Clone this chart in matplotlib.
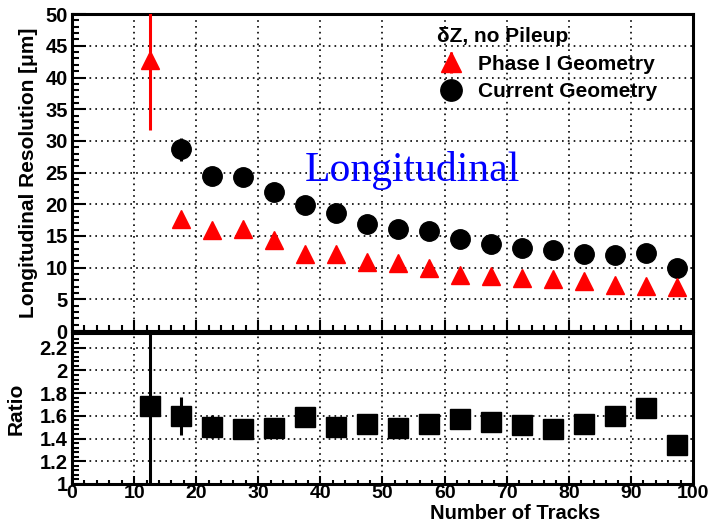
import numpy as np
import matplotlib.pyplot as plt
from matplotlib.ticker import MultipleLocator, FuncFormatter

plt.rcParams['font.family'] = ['Liberation Sans', 'DejaVu Sans']
plt.rcParams['font.weight'] = 'bold'

# bins (centres) in number of tracks
n_tracks = [12.5, 17.5, 22.5, 27.5, 32.5, 37.5, 42.5, 47.5, 52.5,
            57.5, 62.5, 67.5, 72.5, 77.5, 82.5, 87.5, 92.5, 97.5]

# Phase I geometry resolution (um)
phase1 = [42.7, 17.7, 16.0, 16.15, 14.4, 12.2, 12.2, 10.9, 10.66,
          9.98, 8.83, 8.68, 8.42, 8.16, 7.9, 7.27, 7.1, 7.0]
phase1_err = [11.0, 0.4, 0.3, 0.3, 0.3, 0.3, 0.3, 0.2, 0.2,
              0.2, 0.2, 0.2, 0.2, 0.2, 0.2, 0.2, 0.2, 0.2]

# current geometry resolution (um), first bin is off scale
current = [np.nan, 28.7, 24.4, 24.25, 21.9, 19.9, 18.66, 16.93, 16.15,
           15.78, 14.58, 13.8, 13.17, 12.75, 12.23, 11.97, 12.39, 9.98]
current_err = [0.0, 1.8, 0.4, 0.4, 0.4, 0.3, 0.3, 0.3, 0.3,
               0.3, 0.3, 0.3, 0.3, 0.3, 0.3, 0.3, 0.3, 0.3]

# ratio current / phase I
ratio = [1.688, 1.597, 1.506, 1.482, 1.491, 1.588, 1.503, 1.524, 1.494,
         1.524, 1.57, 1.547, 1.518, 1.482, 1.524, 1.60, 1.67, 1.347]
ratio_err = [1.5, 0.165, 0.1, 0.05, 0.05, 0.05, 0.05, 0.05, 0.05,
             0.05, 0.05, 0.05, 0.05, 0.05, 0.05, 0.06, 0.08, 0.08]

grid_style = dict(color='black', linestyle=(0, (1, 2.5)), linewidth=1.2)

fig = plt.figure(figsize=(7.1, 5.23), dpi=100)
ax = fig.add_axes([0.1014, 0.367, 0.8746, 0.606])
axr = fig.add_axes([0.1014, 0.0746, 0.8746, 0.2887])

# ---- top panel
ax.errorbar(n_tracks, current, yerr=current_err, fmt='o', color='black',
            markersize=14, elinewidth=2.2, capsize=0, label='Current Geometry', zorder=3)
ax.errorbar(n_tracks, phase1, yerr=phase1_err, fmt='^', color='red',
            markersize=13, elinewidth=2.2, capsize=0, label='Phase I Geometry', zorder=3)

ax.set_xlim(0, 100)
ax.set_ylim(0, 50)
ax.xaxis.set_major_locator(MultipleLocator(10))
ax.xaxis.set_minor_locator(MultipleLocator(2))
ax.yaxis.set_major_locator(MultipleLocator(5))
ax.yaxis.set_minor_locator(MultipleLocator(1))
ax.tick_params(axis='both', which='both', direction='in', width=1.5)
ax.tick_params(axis='y', which='major', length=10, labelsize=14.5, pad=3)
ax.tick_params(axis='y', which='minor', length=5)
ax.tick_params(axis='x', which='major', length=8, labelbottom=False)
ax.tick_params(axis='x', which='minor', length=4)
ax.grid(True, which='major', **grid_style)
ax.set_ylabel('Longitudinal Resolution [μm]', fontsize=15, fontweight='bold', labelpad=5)
for s in ax.spines.values():
    s.set_linewidth(2.2)

ax.text(54.8, 23.7, 'Longitudinal', color='blue', fontsize=30, fontweight='normal',
        family='Liberation Serif', ha='center', va='baseline')

h, l = ax.get_legend_handles_labels()
leg = ax.legend([h[1], h[0]], [l[1], l[0]], title='δZ, no Pileup', loc='upper left',
                bbox_to_anchor=(0.588, 0.96), frameon=False, fontsize=15,
                title_fontsize=15, alignment='left', borderpad=0, borderaxespad=0,
                handlelength=1.35, handletextpad=0.6, labelspacing=0.42,
                markerscale=1.1)
leg.get_title().set_fontweight('bold')

# ---- ratio panel
axr.errorbar(n_tracks, ratio, yerr=ratio_err, fmt='s', color='black',
             markersize=14.5, elinewidth=2.2, capsize=0, zorder=3)
axr.set_xlim(0, 100)
axr.set_ylim(1.0, 2.33)
axr.xaxis.set_major_locator(MultipleLocator(10))
axr.xaxis.set_minor_locator(MultipleLocator(2))
axr.yaxis.set_major_locator(MultipleLocator(0.2))
axr.yaxis.set_minor_locator(MultipleLocator(0.04))
axr.yaxis.set_major_formatter(FuncFormatter(lambda v, p: '%g' % round(v, 2)))
axr.tick_params(axis='both', which='both', direction='in', width=1.5)
axr.tick_params(axis='y', which='major', length=10, labelsize=14.5, pad=3)
axr.tick_params(axis='y', which='minor', length=5)
axr.tick_params(axis='x', which='major', length=6, labelsize=14, pad=1)
axr.tick_params(axis='x', which='minor', length=3)
axr.grid(True, which='major', **grid_style)
axr.set_ylabel('Ratio', fontsize=15, fontweight='bold', labelpad=10)
axr.set_xlabel('Number of Tracks', fontsize=14.5, fontweight='bold')
axr.xaxis.set_label_coords(0.85, -0.232)
axr.xaxis.label.set_horizontalalignment('right')
axr.xaxis.label.set_verticalalignment('baseline')
for s in axr.spines.values():
    s.set_linewidth(2.2)

fig.savefig('out.png', dpi=100)
